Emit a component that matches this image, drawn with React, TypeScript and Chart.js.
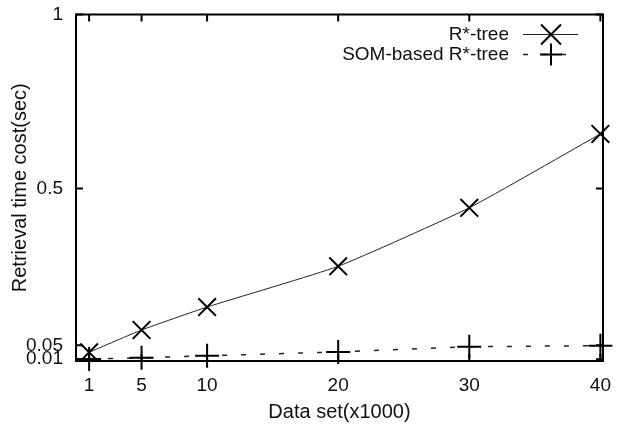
import { useEffect, useRef } from 'react';
import { Chart, registerables } from 'chart.js';

Chart.register(...registerables);

const dataSizes = [1, 5, 10, 20, 30, 40];
const rStarTree = [0.03, 0.094, 0.16, 0.277, 0.445, 0.657];
const somRStarTree = [0.011, 0.014, 0.02, 0.031, 0.046, 0.049];
const xTicks = [1, 5, 10, 20, 30, 40];
const yTicks = [0.01, 0.05, 0.5, 1];
const seriesLabels = ['R*-tree', 'SOM-based R*-tree'];
const xTitle = 'Data set(x1000)';
const yTitle = 'Retrieval time cost(sec)';

const FONT = '"Liberation Sans", Arial, Helvetica, sans-serif';

const framePlugin = {
  id: 'frameTicks',
  beforeDatasetsDraw(chart: any) {
    const { ctx, chartArea: a, scales } = chart;
    ctx.save();
    ctx.strokeStyle = '#000';
    ctx.lineWidth = 2;
    ctx.strokeRect(a.left, a.top, a.right - a.left, a.bottom - a.top);
    const tl = 7;
    ctx.beginPath();
    for (const v of xTicks) {
      const x = scales.x.getPixelForValue(v);
      ctx.moveTo(x, a.bottom);
      ctx.lineTo(x, a.bottom - tl);
      ctx.moveTo(x, a.top);
      ctx.lineTo(x, a.top + tl);
    }
    for (const v of yTicks) {
      const y = scales.y.getPixelForValue(v);
      ctx.moveTo(a.left, y);
      ctx.lineTo(a.left + tl, y);
      ctx.moveTo(a.right, y);
      ctx.lineTo(a.right - tl, y);
    }
    ctx.stroke();
    ctx.restore();
  },
  afterDatasetsDraw(chart: any) {
    const { ctx, chartArea: a } = chart;
    const ds = chart.data.datasets;
    ctx.save();
    ctx.font = `19px ${FONT}`;
    ctx.fillStyle = '#111';
    ctx.textAlign = 'right';
    ctx.textBaseline = 'middle';
    const textRight = a.right - 94;
    const lineL = a.right - 80;
    const lineR = a.right - 25;
    const markX = a.right - 52;
    const rows = [a.top + 20, a.top + 40];
    ds.forEach((d: any, i: number) => {
      const y = rows[i];
      ctx.fillText(d.label, textRight, y);
      ctx.strokeStyle = d.borderColor;
      ctx.lineWidth = d.borderWidth;
      ctx.setLineDash(d.borderDash || []);
      ctx.beginPath();
      ctx.moveTo(lineL, y);
      ctx.lineTo(lineR, y);
      ctx.stroke();
      ctx.setLineDash([]);
      ctx.strokeStyle = '#000';
      ctx.lineWidth = 2;
      ctx.beginPath();
      if (d.pointStyle === 'crossRot') {
        const r = 10;
        ctx.moveTo(markX - r, y - r);
        ctx.lineTo(markX + r, y + r);
        ctx.moveTo(markX - r, y + r);
        ctx.lineTo(markX + r, y - r);
      } else {
        const r = 11;
        ctx.moveTo(markX - r, y);
        ctx.lineTo(markX + r, y);
        ctx.moveTo(markX, y - r);
        ctx.lineTo(markX, y + r);
      }
      ctx.stroke();
    });
    ctx.restore();
  },
};

export default function App() {
  const ref = useRef<HTMLCanvasElement>(null);

  useEffect(() => {
    if (!ref.current) return;
    const chart = new Chart(ref.current, {
      type: 'line',
      data: {
        datasets: [
          {
            label: seriesLabels[0],
            data: dataSizes.map((x, i) => ({ x, y: rStarTree[i] })),
            borderColor: '#222',
            borderWidth: 1,
            tension: 0.15,
            pointStyle: 'crossRot',
            pointRadius: 12.5,
            pointBorderWidth: 2,
            pointBorderColor: '#000',
            pointBackgroundColor: '#000',
            clip: false,
          },
          {
            label: seriesLabels[1],
            data: dataSizes.map((x, i) => ({ x, y: somRStarTree[i] })),
            borderColor: '#222',
            borderWidth: 1.5,
            borderDash: [5, 14],
            tension: 0,
            pointStyle: 'cross',
            pointRadius: 12,
            pointBorderWidth: 2,
            pointBorderColor: '#000',
            pointBackgroundColor: '#000',
            clip: false,
          },
        ],
      },
      options: {
        responsive: false,
        animation: false,
        devicePixelRatio: 1,
        layout: { padding: { top: 13, right: 15, left: 0, bottom: 0 } },
        plugins: {
          legend: { display: false },
          tooltip: { enabled: false },
        },
        scales: {
          x: {
            type: 'linear',
            min: 0,
            max: 40.2,
            afterBuildTicks: (s: any) => {
              s.ticks = xTicks.map((v) => ({ value: v }));
            },
            afterFit: (s: any) => {
              s.height = 69;
              s.paddingLeft = 0;
              s.paddingRight = 0;
            },
            grid: { display: false, drawTicks: false },
            border: { display: false },
            ticks: {
              autoSkip: false,
              maxRotation: 0,
              padding: 13,
              color: '#111',
              font: { family: FONT, size: 19 },
              callback: (v: any) => String(v),
            },
            title: {
              display: true,
              text: xTitle,
              color: '#111',
              font: { family: FONT, size: 20 },
              padding: { top: 0, bottom: 6 },
            },
          },
          y: {
            type: 'linear',
            min: 0.005,
            max: 1,
            afterBuildTicks: (s: any) => {
              s.ticks = yTicks.map((v) => ({ value: v }));
            },
            afterFit: (s: any) => {
              s.width = 76;
              s.paddingTop = 0;
              s.paddingBottom = 0;
            },
            grid: { display: false, drawTicks: false },
            border: { display: false },
            ticks: {
              autoSkip: false,
              padding: 13,
              color: '#111',
              font: { family: FONT, size: 19 },
              callback: (v: any) => String(v),
            },
            title: {
              display: true,
              text: yTitle,
              color: '#111',
              font: { family: FONT, size: 20 },
              padding: { top: 8, bottom: 0 },
            },
          },
        },
      },
      plugins: [framePlugin],
    });
    return () => chart.destroy();
  }, []);

  return (
    <div style={{ position: 'fixed', left: 0, top: 0, width: 618, height: 430, background: '#fff' }}>
      <canvas ref={ref} width={618} height={430} style={{ display: 'block' }} />
    </div>
  );
}
